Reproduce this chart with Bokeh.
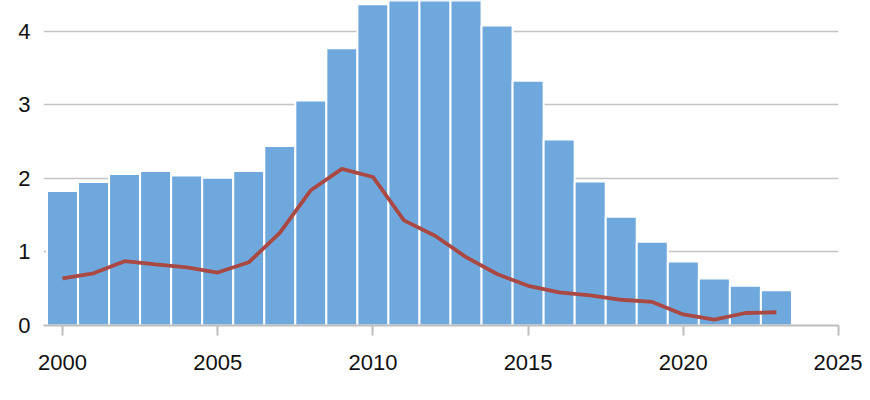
from bokeh.plotting import figure
from bokeh.models import Range1d, FixedTicker
from bokeh.embed import file_html
from bokeh.resources import INLINE

years = list(range(2000, 2024))
bar_values = [1.83, 1.95, 2.06, 2.10, 2.04, 2.01, 2.10, 2.44, 3.06, 3.77, 4.37,
              4.55, 4.62, 4.50, 4.08, 3.33, 2.53, 1.96, 1.48, 1.14, 0.87, 0.64, 0.54, 0.48]
line_values = [0.64, 0.71, 0.875, 0.83, 0.79, 0.72, 0.86, 1.26, 1.84, 2.13, 2.02,
               1.43, 1.22, 0.93, 0.70, 0.54, 0.45, 0.41, 0.35, 0.32, 0.15, 0.08, 0.17, 0.18]
x_ticks = [2000, 2005, 2010, 2015, 2020, 2025]
y_ticks = [0, 1, 2, 3, 4]

FONT = "Liberation Sans"

p = figure(width=862, height=392, output_backend="svg", toolbar_location=None,
           x_range=Range1d(1999.387, 2025), y_range=Range1d(0, 4.42),
           min_border_left=43, min_border_right=24, min_border_top=0, min_border_bottom=67)
p.outline_line_color = None
p.background_fill_color = "white"

p.vbar(x=years, top=bar_values, width=1, bottom=0,
       fill_color="#6fa8dc", line_color="white", line_width=2)
p.line(x=years, y=line_values, line_color="#aa4843", line_width=3.8)

p.xgrid.grid_line_color = None
p.ygrid.ticker = FixedTicker(ticks=[1, 2, 3, 4])
p.ygrid.grid_line_color = "#c4c4c4"
p.ygrid.grid_line_width = 1.5

p.xaxis.ticker = FixedTicker(ticks=x_ticks)
p.xaxis.axis_line_color = "#bdbdbd"
p.xaxis.axis_line_width = 2
p.xaxis.major_tick_line_color = "#bdbdbd"
p.xaxis.major_tick_line_width = 2
p.xaxis.major_tick_out = 10
p.xaxis.major_tick_in = 0
p.xaxis.minor_tick_line_color = None
p.xaxis.major_label_standoff = 19
p.xaxis.major_label_text_font = FONT
p.xaxis.major_label_text_font_size = "22px"
p.xaxis.major_label_text_color = "#111111"

p.yaxis.ticker = FixedTicker(ticks=y_ticks)
p.yaxis.axis_line_color = None
p.yaxis.major_tick_line_color = None
p.yaxis.minor_tick_line_color = None
p.yaxis.major_tick_out = 0
p.yaxis.major_tick_in = 0
p.yaxis.major_label_standoff = 13
p.yaxis.major_label_text_font = FONT
p.yaxis.major_label_text_font_size = "22px"
p.yaxis.major_label_text_color = "#111111"

open("out.html", "w").write(file_html(p, INLINE))
